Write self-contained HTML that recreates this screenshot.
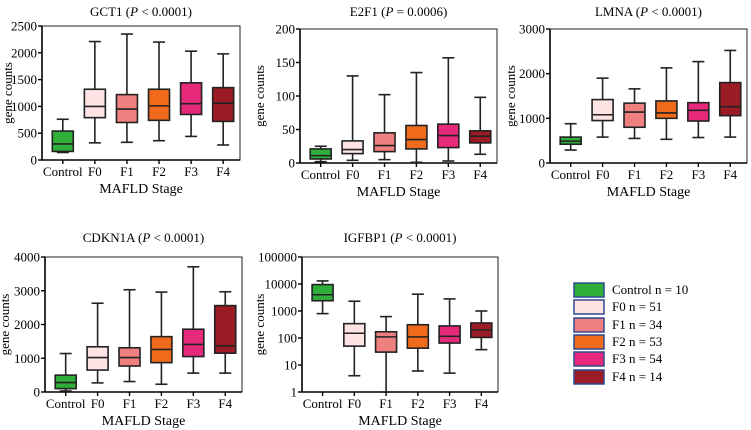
<!DOCTYPE html>
<html><head><meta charset="utf-8"><style>
html,body{margin:0;padding:0;background:#fff}
svg{display:block}
svg text{font-family:"Liberation Serif","DejaVu Serif",serif}
</style></head><body>
<svg id="chart" width="751" height="430" viewBox="0 0 751 430" font-family="Liberation Serif, serif"></svg>
<script>
const groups = ["Control","F0","F1","F2","F3","F4"];
const colors = ["#2fae3a","#fde3e4","#f08080","#f06a1c","#e6297b","#9b1c24"];
const legendLabels = ["Control n = 10","F0 n = 51","F1 n = 34","F2 n = 53","F3 n = 54","F4 n = 14"];
// [min,q1,median,q3,max]
const gct1 = [[140,160,300,540,760],[320,790,1000,1320,2210],[330,700,950,1220,2350],[360,740,1010,1320,2200],[440,850,1050,1440,2030],[280,720,1060,1350,1980]];
const e2f1 = [[2,6,11,21,25],[4,14,20,33,130],[5,17,26,45,102],[1,21,35,56,135],[3,23,41,58,157],[13,30,40,48,98]];
const lmna = [[290,420,490,580,880],[580,950,1080,1420,1900],[550,800,1140,1340,1660],[530,1000,1120,1390,2130],[570,940,1180,1350,2270],[580,1060,1260,1800,2520]];
const cdkn1a = [[30,100,280,500,1140],[270,650,1020,1340,2630],[310,770,1020,1310,3030],[230,870,1260,1640,2960],[560,1050,1410,1860,3710],[560,1150,1370,2560,2970]];
const igfbp1 = [[800,2400,4000,9500,13000],[4,50,150,340,2300],[1,30,110,170,620],[6,42,110,310,4200],[5,65,115,280,2800],[37,105,200,360,1000]];
const ticksGct1 = [0,500,1000,1500,2000,2500];
const ticksE2f1 = [0,50,100,150,200];
const ticksLmna = [0,1000,2000,3000];
const ticksCdkn1a = [0,1000,2000,3000,4000];
const ticksIgfbp1 = [1,10,100,1000,10000,100000];

const svg = document.getElementById('chart');
const NS = "http://www.w3.org/2000/svg";
function mk(tag, attrs, parent){
  const e = document.createElementNS(NS, tag);
  for (const k in attrs) e.setAttribute(k, attrs[k]);
  if (tag === 'text') e.setAttribute('font-family', 'Liberation Serif, serif');
  (parent||svg).appendChild(e); return e;
}
const panels = [
  {name:"gct1", gene:"GCT1", p:"< 0.0001", data:gct1, ticks:ticksGct1, log:false, L:42, R:240, T:26, B:160, ty:16, yo:30},
  {name:"e2f1", gene:"E2F1", p:"= 0.0006", data:e2f1, ticks:ticksE2f1, log:false, L:300, R:497, T:29, B:163, ty:16, yo:36},
  {name:"lmna", gene:"LMNA", p:"< 0.0001", data:lmna, ticks:ticksLmna, log:false, L:550, R:747, T:29, B:163, ty:16, yo:35},
  {name:"cdkn1a", gene:"CDKN1A", p:"< 0.0001", data:cdkn1a, ticks:ticksCdkn1a, log:false, L:45, R:242, T:257, B:392, ty:242, yo:36},
  {name:"igfbp1", gene:"IGFBP1", p:"< 0.0001", data:igfbp1, ticks:ticksIgfbp1, log:true, L:302, R:498, T:257, B:392, ty:242, yo:38}
];
panels.forEach(pn => {
  const g = mk('g', {});
  
  
  const tmin = pn.ticks[0], tmax = pn.ticks[pn.ticks.length-1];
  const y = v => pn.log
    ? pn.B - (Math.log10(Math.max(v,1e-9)) - Math.log10(tmin)) / (Math.log10(tmax) - Math.log10(tmin)) * (pn.B - pn.T)
    : pn.B - (v - tmin) / (tmax - tmin) * (pn.B - pn.T);
  const w = pn.R - pn.L;
  const x = i => pn.L + w * (0.105 + i * 0.162);
  const cx = (pn.L + pn.R) / 2;
  const t = mk('text', {x:cx, y:pn.ty, 'text-anchor':'middle', 'font-size':13}, g);
  
  
  t.innerHTML = pn.gene + ' (<tspan font-style="italic">P</tspan> ' + pn.p.replace('<','&lt;') + ')';
  const fr = mk('rect', {x:pn.L, y:pn.T, width:w, height:pn.B-pn.T, fill:'none', stroke:'#222', 'stroke-width':1}, g);
  
  
  mk('line', {x1:pn.L, y1:pn.T, x2:pn.L, y2:pn.B, stroke:'#000', 'stroke-width':1.6}, g);
  mk('line', {x1:pn.L, y1:pn.B, x2:pn.R, y2:pn.B, stroke:'#000', 'stroke-width':1.6}, g);
  pn.ticks.forEach(tv => {
    const yy = y(tv);
    mk('line', {x1:pn.L-4, y1:yy, x2:pn.L, y2:yy, stroke:'#000', 'stroke-width':1.4}, g);
    const tl = mk('text', {x:pn.L-5, y:yy+4.5, 'text-anchor':'end', 'font-size':13}, g);
    
    
    tl.textContent = tv;
  });
  const yl = mk('text', {x:0, y:0, 'text-anchor':'middle', 'font-size':13, transform:'translate(' + (pn.L-pn.yo) + ',' + ((pn.T+pn.B)/2) + ') rotate(-90)'}, g);
  
  
  yl.textContent = 'gene counts';
  const xl = mk('text', {x:cx, y:pn.B+33, 'text-anchor':'middle', 'font-size':14}, g);
  
  
  xl.textContent = 'MAFLD Stage';
  pn.data.forEach((d, i) => {
    const xc = x(i), bw = 21;
    const bg = mk('g', {}, g);
    
    
    mk('line', {x1:xc, y1:y(d[0]), x2:xc, y2:y(d[4]), stroke:'#222', 'stroke-width':1.6}, bg);
    mk('line', {x1:xc-6, y1:y(d[0]), x2:xc+6, y2:y(d[0]), stroke:'#222', 'stroke-width':1.6}, bg);
    mk('line', {x1:xc-6, y1:y(d[4]), x2:xc+6, y2:y(d[4]), stroke:'#222', 'stroke-width':1.6}, bg);
    mk('rect', {x:xc-bw/2, y:y(d[3]), width:bw, height:y(d[1])-y(d[3]), fill:colors[i], stroke:'#222', 'stroke-width':1.6}, bg);
    mk('line', {x1:xc-bw/2, y1:y(d[2]), x2:xc+bw/2, y2:y(d[2]), stroke:'#222', 'stroke-width':1.6}, bg);
    mk('line', {x1:xc, y1:pn.B, x2:xc, y2:pn.B+4, stroke:'#000', 'stroke-width':1.4}, g);
    const gl = mk('text', {x:xc, y:pn.B+16, 'text-anchor':'middle', 'font-size':13}, g);
    
    
    gl.textContent = groups[i];
  });
});
const lg = mk('g', {});


const legY = [283, 300, 318, 335, 352, 370];
legendLabels.forEach((lab, i) => {
  const e = mk('g', {}, lg);
  
  
  mk('rect', {x:574, y:legY[i], width:30, height:14, fill:colors[i], stroke:'#2e4a8f', 'stroke-width':1.5}, e);
  const tx = mk('text', {x:612, y:legY[i]+11, 'font-size':13}, e);
  tx.textContent = lab;
});
</script>
</body></html>
